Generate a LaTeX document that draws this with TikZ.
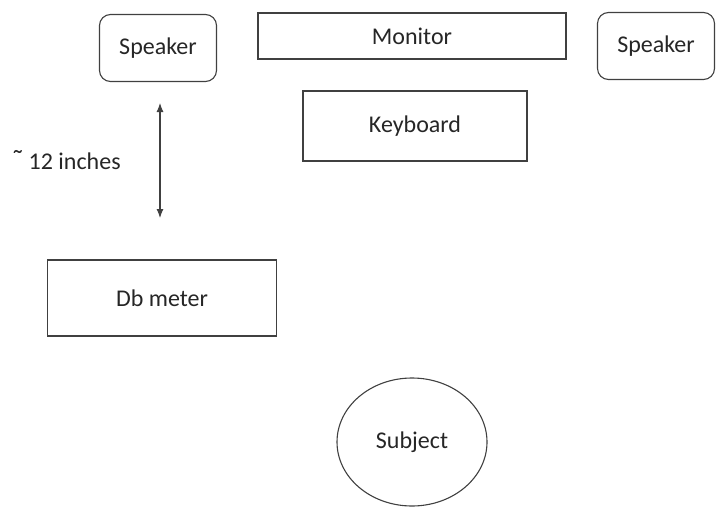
\documentclass[tikz,border=0pt]{standalone}
\usepackage{fontspec}
\setmainfont{Carlito}
\usetikzlibrary{arrows.meta, shapes.geometric}

\tikzset{
    box/.style={draw=black!75, line width=1.1pt, minimum width=#1, inner sep=0pt},
    speakerbox/.style={box=117pt, minimum height=67pt, rounded corners=11pt},
    txt/.style={font=\fontsize{24}{28}\selectfont, text=black!85}
}

\begin{document}
\begin{tikzpicture}[x=1pt, y=-1pt]
            \useasboundingbox (0, 0) rectangle (719, 508);
            % top row
            \node[speakerbox, txt] (spkL) at (158, 48) {Speaker};
            \node[box=308pt, minimum height=46pt, txt] (mon) at (412, 36) {Monitor};
            \node[speakerbox, txt] (spkR) at (656, 46) {Speaker};
            \node[box=224pt, minimum height=70pt, txt] (kbd) at (415, 126) {Keyboard};
            
            % distance marker
            \coordinate (distTop) at (160, 103);
            \coordinate (distBot) at (160, 218);
            \draw[black!75, line width=1.1pt, {Latex[length=9pt,width=7pt]}-{Latex[length=9pt,width=7pt]}] (distTop) -- (distBot);
            \node[txt, anchor=west, inner sep=0pt] (dist) at (11, 160) {\raisebox{-1pt}{\fontsize{30}{30}\selectfont˜}\,12 inches};
            
            \node[box=229pt, minimum height=76pt, txt] (meter) at (162, 298) {Db meter};
            \node[draw=black!75, line width=1.1pt, ellipse, minimum width=150pt, minimum height=128pt, inner sep=0pt, txt] (subj) at (412, 442) {Subject};
        \end{tikzpicture}
\end{document}
